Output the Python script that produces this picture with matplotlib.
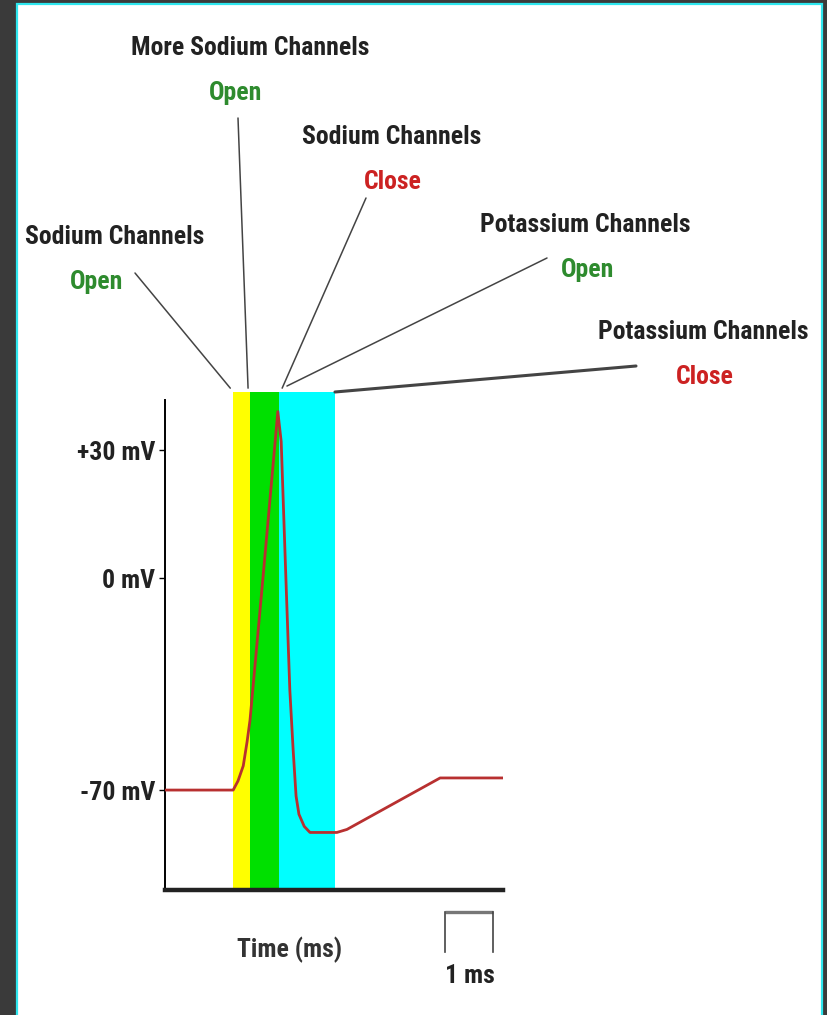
import matplotlib.pyplot as plt
import numpy as np
from matplotlib.patches import Rectangle

plt.rcParams["font.family"] = ["Liberation Sans Narrow", "Roboto Condensed",
                               "Open Sans Condensed", "Noto Sans Condensed",
                               "DejaVu Sans"]
plt.rcParams["font.stretch"] = "condensed"

# action potential trace (time in ms, membrane potential in mV)
t_ms = [0, 1.42, 1.52, 1.63, 1.71, 1.77, 2.04, 2.35, 2.42, 2.52, 2.60, 2.67,
        2.73, 2.79, 2.90, 3.02, 3.58, 3.79, 5.73, 7.04]
mv = [-70, -70, -67, -62, -54, -47, 0, 39, 32, -1, -37, -57,
      -72, -78, -82, -84, -84, -83, -66, -66]

# channel phases
phase_start = [1.42, 1.77, 2.375]
phase_end = [1.77, 2.375, 3.54]
phase_colors = ["#ffff00", "#00e000", "#00ffff"]

tick_mv = [30, 0, -70]
tick_labels = ["+30 mV", "0 mV", "-70 mV"]

W, H = 827, 1015


def fwd(v):
    v = np.asarray(v, dtype=float)
    return np.where(v < 0, v * 3.03, v * 4.27)


def inv(y):
    y = np.asarray(y, dtype=float)
    return np.where(y < 0, y / 3.03, y / 4.27)


def fx(x):
    return x / W


def fy(y):
    return 1 - y / H


fig = plt.figure(figsize=(8.27, 10.15), dpi=100, facecolor="#3a3a3a")
fig.add_artist(Rectangle((fx(17), fy(1030)), fx(805), (1030 - 4) / H,
                         transform=fig.transFigure, facecolor="white",
                         edgecolor="#2ee6ee", linewidth=1.6, zorder=-10))

# pick a font size so the widest label spans about as much as in the picture
renderer = fig.canvas.get_renderer()
probe = fig.text(0, 0, "More Sodium Channels", fontsize=20, fontweight="bold")
fs = 20 * 238 / probe.get_window_extent(renderer).width
probe.remove()

ax = fig.add_axes([fx(165), fy(890), fx(338), (890 - 392) / H])
ax.set_facecolor("none")
ax.set_yscale("function", functions=(fwd, inv))
ax.set_xlim(0, 7.04)
ax.set_ylim(-103, 43.6)

for s, e, c in zip(phase_start, phase_end, phase_colors):
    ax.axvspan(s, e, color=c, lw=0, zorder=1)

ax.plot(t_ms, mv, color="#b83030", lw=2, zorder=3)

for side in ["top", "right"]:
    ax.spines[side].set_visible(False)
ax.spines["left"].set_linewidth(1.4)
ax.spines["left"].set_bounds(-103, 41.7)
ax.spines["bottom"].set_linewidth(3.2)
ax.spines["bottom"].set_color("#222222")
ax.spines["bottom"].set_zorder(4)

ax.set_xticks([])
ax.set_yticks(tick_mv)
ax.set_yticklabels(tick_labels)
ax.tick_params(axis="y", direction="out", length=4, width=1, pad=3,
               labelsize=fs, labelcolor="#222222")
for lbl in ax.get_yticklabels():
    lbl.set_fontweight("bold")

# 1 ms scale bar
ax.plot([5.83, 6.83], [-110.3, -110.3], color="#777777", lw=2.4,
        clip_on=False, solid_capstyle="butt")
ax.plot([5.83, 5.83], [-110.3, -123.5], color="#444444", lw=1.2, clip_on=False)
ax.plot([6.83, 6.83], [-110.3, -123.5], color="#444444", lw=1.2, clip_on=False)

txt = dict(ha="center", va="center", fontsize=fs, fontweight="bold")
fig.text(fx(290), fy(950), "Time (ms)", color="#333333", **txt)
fig.text(fx(470), fy(976), "1 ms", color="#222222", **txt)

# labels: (title x, title y, state x, title, state, state colour)
notes = [
    (250, 48, 236, "More Sodium Channels", "Open", "#2e8b2e"),
    (115, 237, 97, "Sodium Channels", "Open", "#2e8b2e"),
    (392, 137, 393, "Sodium Channels", "Close", "#cc2222"),
    (585, 225, 588, "Potassium Channels", "Open", "#2e8b2e"),
    (703, 332, 705, "Potassium Channels", "Close", "#cc2222"),
]
for x, y, xs, title, state, col in notes:
    fig.text(fx(x), fy(y), title, color="#222222", **txt)
    fig.text(fx(xs), fy(y + 45), state, color=col, **txt)

# leader lines: (start x, start y in px, end time, end mV, width)
leaders = [
    (135, 273, 1.36, 44.5, 1.1),
    (238, 118, 1.73, 44.5, 1.1),
    (366, 198, 2.44, 44.5, 1.1),
    (547, 258, 2.54, 45.0, 1.1),
    (636, 366, 3.54, 43.6, 2.2),
]
for x0, y0, t1, v1, lw in leaders:
    ax.annotate("", xy=(t1, v1), xycoords="data",
                xytext=(x0, H - y0), textcoords="figure pixels",
                arrowprops=dict(arrowstyle="-", color="#444444", lw=lw,
                                shrinkA=0, shrinkB=0),
                annotation_clip=False)

fig.savefig("out.png", dpi=100, facecolor=fig.get_facecolor())
